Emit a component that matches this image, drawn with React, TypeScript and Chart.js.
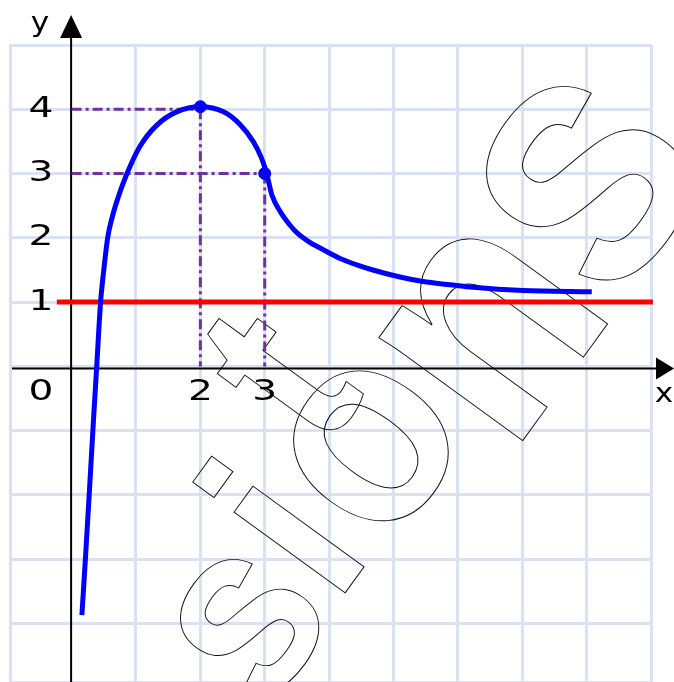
import React, { useEffect, useRef } from "react";
import { Chart, registerables } from "chart.js";

Chart.register(...registerables);

// ---- data ----
const curveX = [0.16, 0.22, 0.28, 0.34, 0.39, 0.45, 0.5, 0.56, 0.63, 0.72, 0.84, 1.06, 1.32, 1.63, 2.0, 2.36, 2.62, 2.82, 2.95, 3.03, 3.11, 3.24, 3.39, 3.52, 3.7, 3.88, 4.17, 4.43, 4.68, 5.1, 5.46, 5.88, 6.24, 7.01, 8.08];
const curveY = [-3.87, -2.9, -1.88, -0.83, 0, 1, 1.5, 2.0, 2.32, 2.62, 2.95, 3.42, 3.75, 3.96, 4.04, 3.96, 3.76, 3.5, 3.24, 3.0, 2.67, 2.41, 2.2, 2.06, 1.93, 1.83, 1.68, 1.58, 1.5, 1.39, 1.32, 1.27, 1.23, 1.18, 1.16];
const markerX = [2, 3];
const markerY = [4.04, 3];
const asymptoteY = 1;
const asymptoteX = [-0.23, 9.03];
const guideX = [2, 3];
const guideY = [4, 3];
const yTickLabels = ["1", "2", "3", "4"];
const yTickValues = [1, 2, 3, 4];
const xTickLabels = ["2", "3"];
const xTickValues = [2, 3];
const originLabel = "0";
const xAxisLabel = "x";
const yAxisLabel = "y";
const watermarkLetters = ["s", "i", "t", "o", "n", "s"];

// ---- styles ----
const GRID = "#d9e1f2";
const BLUE = "#0000ff";
const RED = "#ff0000";
const PURPLE = "#7030a0";
const X_MIN = -0.957, X_MAX = 9, Y_MIN = -4.91, Y_MAX = 5;
const LABEL_FONT = '29px "DejaVu Sans"';
// [centerX, centerY, fontSize]
const WM_LAYOUT = [
  [250, 625, 250],
  [300, 540, 260],
  [292, 385, 250],
  [372, 447, 285],
  [494, 332, 335],
  [588, 182, 365],
];

const drawLabel = (ctx: CanvasRenderingContext2D, t: string, x: number, y: number, sx = 1.35, font = LABEL_FONT) => {
  ctx.save();
  ctx.translate(x, y);
  ctx.scale(sx, 1);
  ctx.font = font;
  ctx.fillStyle = "#000";
  ctx.textAlign = "center";
  ctx.textBaseline = "middle";
  ctx.fillText(t, 0, 0);
  ctx.restore();
};

const paperPlugin = {
  id: "paper",
  beforeDatasetsDraw(chart: any) {
    const { ctx, chartArea, scales } = chart;
    const xs = scales.x, ys = scales.y;
    ctx.save();
    // watermark
    ctx.strokeStyle = "#111";
    ctx.lineWidth = 1;
    ctx.textAlign = "center";
    ctx.textBaseline = "alphabetic";
    watermarkLetters.forEach((ch, i) => {
      const [cx, cy, fs] = WM_LAYOUT[i];
      ctx.save();
      ctx.translate(cx, cy);
      ctx.rotate((-54 * Math.PI) / 180);
      ctx.scale(0.9, 1);
      ctx.font = `bold ${fs}px "Liberation Sans"`;
      ctx.strokeText(ch, 0, 0.26 * fs);
      ctx.restore();
    });

    // axes
    const x0 = xs.getPixelForValue(0) - 0.5;
    const y0 = ys.getPixelForValue(0) + 2;
    ctx.strokeStyle = "#000";
    ctx.fillStyle = "#000";
    ctx.lineWidth = 2;
    ctx.beginPath();
    ctx.moveTo(x0, chartArea.top - 8);
    ctx.lineTo(x0, chart.height);
    ctx.moveTo(chartArea.left + 2, y0);
    ctx.lineTo(chart.width - 18, y0);
    ctx.stroke();
    // arrows
    ctx.beginPath();
    ctx.moveTo(x0, chartArea.top - 30);
    ctx.lineTo(x0 - 11, chartArea.top - 7);
    ctx.lineTo(x0 + 11, chartArea.top - 7);
    ctx.closePath();
    ctx.fill();
    ctx.beginPath();
    ctx.moveTo(chart.width, y0);
    ctx.lineTo(chart.width - 18, y0 - 11);
    ctx.lineTo(chart.width - 18, y0 + 11);
    ctx.closePath();
    ctx.fill();

    // labels
    yTickValues.forEach((v, i) => drawLabel(ctx, yTickLabels[i], 41, ys.getPixelForValue(v)));
    xTickValues.forEach((v, i) => drawLabel(ctx, xTickLabels[i], xs.getPixelForValue(v), y0 + 24));
    drawLabel(ctx, originLabel, 41, y0 + 24);
    drawLabel(ctx, xAxisLabel, chart.width - 10, y0 + 27, 1.2, '26px "DejaVu Sans"');
    drawLabel(ctx, yAxisLabel, 40, chartArea.top - 21, 1.2, '26px "DejaVu Sans"');
    ctx.restore();
  },
};

export default function App() {
  const ref = useRef<HTMLCanvasElement>(null);
  useEffect(() => {
    if (!ref.current) return;
    const curve = curveX.map((x, i) => ({ x, y: curveY[i] }));
    const markers = markerX.map((x, i) => ({ x, y: markerY[i] }));
    const guides: any[] = [];
    guideX.forEach((gx, i) => {
      guides.push({ data: [{ x: 0, y: guideY[i] }, { x: gx, y: guideY[i] }] });
      guides.push({ data: [{ x: gx, y: guideY[i] }, { x: gx, y: 0 }] });
    });
    const chart = new Chart(ref.current, {
      type: "scatter",
      data: {
        datasets: [
          {
            data: curve,
            showLine: true,
            borderColor: BLUE,
            borderWidth: 5,
            pointRadius: 0,
            cubicInterpolationMode: "monotone",
            order: 0,
          } as any,
          {
            data: markers,
            pointRadius: 6,
            pointBackgroundColor: BLUE,
            pointBorderColor: BLUE,
            showLine: false,
            order: 0,
          },
          {
            data: asymptoteX.map((x) => ({ x, y: asymptoteY })),
            showLine: true,
            borderColor: RED,
            borderWidth: 5,
            pointRadius: 0,
            clip: false,
            order: 1,
          } as any,
          ...guides.map((g) => ({
            data: g.data,
            showLine: true,
            borderColor: PURPLE,
            borderWidth: 3,
            borderDash: [10, 4, 3, 4],
            pointRadius: 0,
            order: 2,
          })),
        ],
      },
      options: {
        animation: false,
        responsive: false,
        devicePixelRatio: 1,
        layout: { autoPadding: false, padding: { left: 10, right: 23, top: 45, bottom: 0 } },
        plugins: { legend: { display: false }, tooltip: { enabled: false } },
        scales: {
          x: {
            type: "linear",
            min: X_MIN,
            max: X_MAX,
            ticks: { display: false, stepSize: 1 },
            grid: { color: GRID, lineWidth: 3, drawTicks: false },
            border: { display: false },
            afterFit: (s: any) => { s.height = 0; },
          },
          y: {
            type: "linear",
            min: Y_MIN,
            max: Y_MAX,
            ticks: { display: false, stepSize: 1 },
            grid: { color: GRID, lineWidth: 3, drawTicks: false },
            border: { display: true, color: GRID, width: 3 },
            afterFit: (s: any) => { s.width = 0; },
          },
        },
      } as any,
      plugins: [paperPlugin],
    });
    return () => chart.destroy();
  }, []);
  return (
    <div style={{ position: "fixed", left: 0, top: 0, width: 674, height: 682, background: "#fff" }}>
      <canvas ref={ref} width={674} height={682} />
    </div>
  );
}
